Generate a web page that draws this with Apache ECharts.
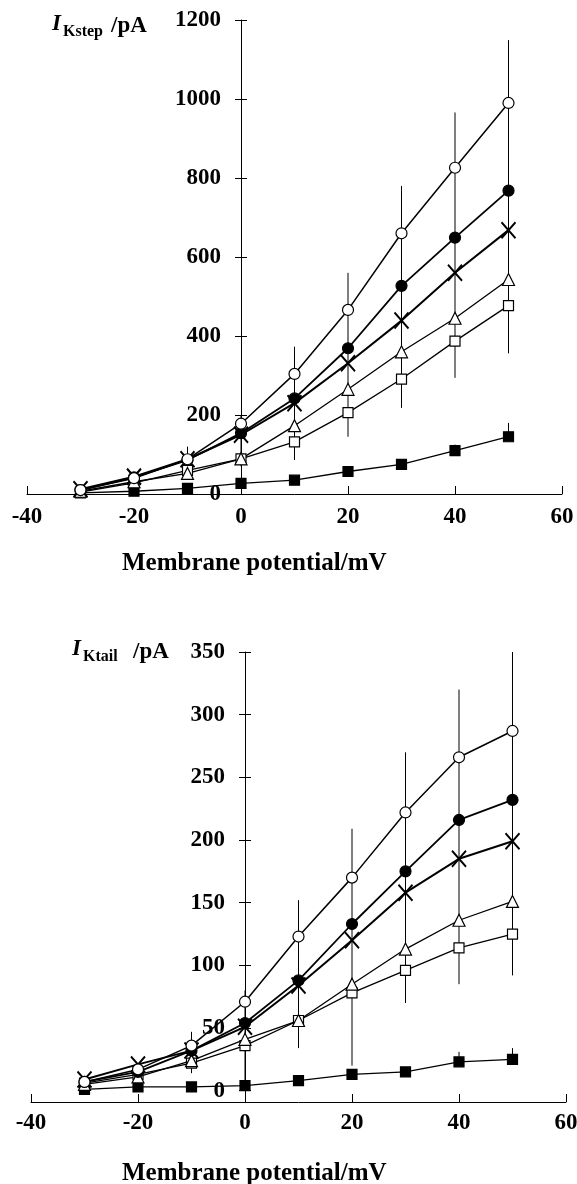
<!DOCTYPE html>
<html>
<head>
<meta charset="utf-8">
<title>IK step / tail</title>
<script src="https://cdn.jsdelivr.net/npm/echarts@6/dist/echarts.min.js"></script>
<style>
  html, body { margin: 0; padding: 0; background: #fff; }
  #chart { width: 577px; height: 1184px; }
</style>
</head>
<body>
<div id="chart"></div>
<script>
// Membrane potential steps (mV)
var voltages = [-30, -20, -10, 0, 10, 20, 30, 40, 50];
var xTicks = [-40, -20, 0, 20, 40, 60];

// Top panel: I Kstep (pA)
var stepOpenCircle   = [10, 40, 88, 178, 304, 466, 660, 826, 990];
var stepFilledCircle = [10, 42, 86, 154, 242, 369, 527, 649, 768];
var stepCross        = [12, 44, 88, 150, 230, 331, 439, 560, 668];
var stepTriangle     = [7, 31, 52, 89, 173, 265, 360, 445, 543];
var stepSquare       = [5, 28, 60, 89, 132, 206, 291, 387, 477];
var stepFilledSquare = [3, 7, 14, 27, 35, 57, 75, 110, 145];
// error bars: potential, low end, high end
var stepErrX  = [-20, -10, 0, 10, 20, 30, 40, 50, 40, 50];
var stepErrLo = [25, 40, 70, 86, 145, 218, 294, 356, 110, 145];
var stepErrHi = [55, 120, 200, 373, 560, 780, 966, 1149, 125, 180];
var stepTicks = [0, 200, 400, 600, 800, 1000, 1200];

// Bottom panel: I Ktail (pA)
var tailOpenCircle   = [7, 17, 36, 71, 123, 170, 222, 266, 287];
var tailFilledCircle = [7, 15, 32, 54, 88, 133, 175, 216, 232];
var tailCross        = [9, 21, 32, 51, 84, 120, 158, 185, 199];
var tailTriangle     = [5, 11, 24, 41, 56, 85, 113, 136, 151];
var tailSquare       = [6, 13, 22, 36, 56, 78, 96, 114, 125];
var tailFilledSquare = [1, 3, 3, 4, 8, 13, 15, 23, 25];
var tailErrX  = [-10, 0, 10, 20, 30, 40, 50, 40, 50];
var tailErrLo = [14, 0, 34, 20, 70, 85, 92, 23, 25];
var tailErrHi = [47, 80, 152, 209, 270, 320, 350, 31, 34];
var tailTicks = [0, 50, 100, 150, 200, 250, 300, 350];

var FONT = '"Liberation Serif", "Times New Roman", serif';
var X_MIN = -40, X_MAX = 60;
var PLOT_W = 535; // width of each plot area

var chart = echarts.init(document.getElementById('chart'));

// Helpers
function pairs(values) {
  return voltages.map(function (v, i) { return [v, values[i]]; });
}

function errData(xs, lo, hi) {
  return xs.map(function (x, i) { return [x, lo[i], hi[i]]; });
}

var markers = {
  openCircle:   { symbol: 'circle', size: 11, fill: '#fff', lw: 1.5 },
  filledCircle: { symbol: 'circle', size: 11, fill: '#000', lw: 1.8 },
  cross:        { symbol: 'path://M0,0L10,10M0,10L10,0', size: [14, 16], fill: 'none', lw: 2 },
  triangle:     { symbol: 'triangle', size: 12, fill: '#fff', lw: 1.3 },
  square:       { symbol: 'rect', size: 10, fill: '#fff', lw: 1.3 },
  filledSquare: { symbol: 'rect', size: 10, fill: '#000', lw: 1.3 }
};

function lineSeries(values, kind, idx) {
  var m = markers[kind];
  return {
    type: 'line',
    xAxisIndex: idx,
    yAxisIndex: idx * 2,
    data: pairs(values),
    symbol: m.symbol,
    symbolSize: m.size,
    showAllSymbol: true,
    animation: false,
    z: 3,
    lineStyle: { color: '#000', width: m.lw },
    itemStyle: { color: m.fill, borderColor: '#000', borderWidth: kind === 'cross' ? 2 : 1.2, opacity: 1 }
  };
}

function errSeries(data, idx) {
  return {
    type: 'custom',
    xAxisIndex: idx,
    yAxisIndex: idx * 2,
    data: data,
    z: 1,
    animation: false,
    encode: { x: 0, y: [1, 2] },
    renderItem: function (params, api) {
      var p1 = api.coord([api.value(0), api.value(1)]);
      var p2 = api.coord([api.value(0), api.value(2)]);
      return {
        type: 'line',
        shape: { x1: p1[0], y1: p1[1], x2: p2[0], y2: p2[1] },
        style: { stroke: '#000', lineWidth: 1 }
      };
    }
  };
}

var labelStyle = {
  color: '#000',
  fontFamily: FONT,
  fontWeight: 'bold',
  fontSize: 23,
  formatter: function (v) { return String(v); } // no thousands separator
};

function xAxisFor(idx, margin) {
  return {
    type: 'value',
    gridIndex: idx,
    min: X_MIN,
    max: X_MAX,
    interval: 20,
    splitLine: { show: false },
    axisLine: { onZero: false, lineStyle: { color: '#000', width: 1 } },
    axisTick: { inside: true, length: 8, lineStyle: { color: '#000' } },
    axisLabel: Object.assign({ margin: margin, customValues: xTicks }, labelStyle)
  };
}

// y axis sits at 0 mV: shift it inward from the left grid edge
var yOffset = -PLOT_W * (0 - X_MIN) / (X_MAX - X_MIN);

function yAxesFor(idx, min, max, ticks) {
  return [{
    type: 'value',
    gridIndex: idx,
    position: 'left',
    offset: yOffset,
    min: min,
    max: max,
    splitLine: { show: false },
    axisLine: { onZero: false, lineStyle: { color: '#000', width: 1 } },
    axisTick: { length: 6, customValues: ticks, lineStyle: { color: '#000' } },
    axisLabel: Object.assign({ margin: 20, customValues: ticks }, labelStyle)
  }, {
    // inner half of the crossing ticks
    type: 'value',
    gridIndex: idx,
    position: 'left',
    offset: yOffset,
    min: min,
    max: max,
    splitLine: { show: false },
    axisLine: { show: false, onZero: false },
    axisTick: { inside: true, length: 6, customValues: ticks, lineStyle: { color: '#000' } },
    axisLabel: { show: false }
  }];
}

function text(x, y, str, size, italic) {
  return {
    type: 'text',
    x: x,
    y: y,
    style: {
      text: str,
      fill: '#000',
      font: (italic ? 'italic ' : '') + 'bold ' + size + 'px ' + FONT,
      textAlign: 'left',
      textVerticalAlign: 'top'
    }
  };
}

var option = {
  backgroundColor: '#fff',
  animation: false,
  grid: [
    { left: 27, width: PLOT_W, top: 20, height: 474, outerBoundsMode: 'none' },
    { left: 31, width: PLOT_W, top: 652, height: 450, outerBoundsMode: 'none' }
  ],
  xAxis: [xAxisFor(0, 12), xAxisFor(1, 10)],
  yAxis: yAxesFor(0, 0, 1200, stepTicks).concat(yAxesFor(1, -9, 350, tailTicks)),
  graphic: [
    // Axis names
    text(52, 13, 'I', 23, true),
    text(63, 24, 'Kstep', 16),
    text(111, 15, '/pA', 23),
    text(72, 638, 'I', 23, true),
    text(83, 649, 'Ktail', 16),
    text(133, 641, '/pA', 23),
    text(122, 551, 'Membrane potential/mV', 25),
    text(122, 1161, 'Membrane potential/mV', 25)
  ],
  series: [
    errSeries(errData(stepErrX, stepErrLo, stepErrHi), 0),
    lineSeries(stepFilledSquare, 'filledSquare', 0),
    lineSeries(stepSquare, 'square', 0),
    lineSeries(stepTriangle, 'triangle', 0),
    lineSeries(stepCross, 'cross', 0),
    lineSeries(stepFilledCircle, 'filledCircle', 0),
    lineSeries(stepOpenCircle, 'openCircle', 0),

    errSeries(errData(tailErrX, tailErrLo, tailErrHi), 1),
    lineSeries(tailFilledSquare, 'filledSquare', 1),
    lineSeries(tailSquare, 'square', 1),
    lineSeries(tailTriangle, 'triangle', 1),
    lineSeries(tailCross, 'cross', 1),
    lineSeries(tailFilledCircle, 'filledCircle', 1),
    lineSeries(tailOpenCircle, 'openCircle', 1)
  ]
};

chart.setOption(option);
</script>
</body>
</html>
